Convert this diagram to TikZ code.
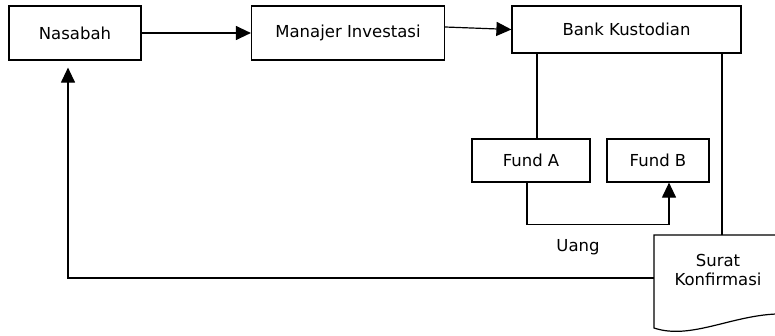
\documentclass[tikz,border=0pt]{standalone}
\usepackage{fontspec}
\setmainfont{DejaVu Sans}
\usetikzlibrary{arrows.meta}
\begin{document}
\begin{tikzpicture}[x=1pt, y=-1pt, line width=1.2pt,
    box/.style={draw, minimum height=54pt, inner sep=0pt},
    arr/.style={-{Triangle[length=15pt,width=14pt]}},
    font=\fontsize{16.5}{19}\selectfont]
      \useasboundingbox (0, 0) rectangle (775, 335);
      \draw (75, 33) node (nas) [box, minimum width=132pt] {Nasabah}
            (348, 33) node (mi) [box, minimum width=193pt] {Manajer Investasi}
            (626.5, 29.5) node (bk) [box, minimum width=229pt, minimum height=47pt] {Bank Kustodian}
            (531, 160.5) node (fa) [box, minimum width=118pt, minimum height=43pt] {Fund A}
            (658, 160.5) node (fb) [box, minimum width=102pt, minimum height=43pt] {Fund B}
            (578, 247) node (uang) {Uang}
            (718, 270) node (sk) [align=center] {Surat\\Konfirmasi};
      % dokumen surat
      \coordinate (sktop) at (722, 235);
      \coordinate (skleft) at (654, 278);
      \draw (776, 235) -- (654, 235) -- (654, 328)
            .. controls (690, 340) and (730, 316) .. (776, 314);
      \draw[arr] (nas) -- (mi);
      \draw[arr] ([yshift=6pt]mi.east) -- (bk.west);
      \draw ([xshift=6pt]fa.north) -- ([xshift=6pt]fa.north |- bk.south)
            (sktop) -- (sktop |- bk.south);
      \draw[arr] ([xshift=-4pt]fa.south) -- ++(0, 42) -| ([xshift=11pt]fb.south);
      \draw[arr, shorten >=7pt] (skleft) -| ([xshift=-7pt]nas.south);
\end{tikzpicture}
\end{document}
